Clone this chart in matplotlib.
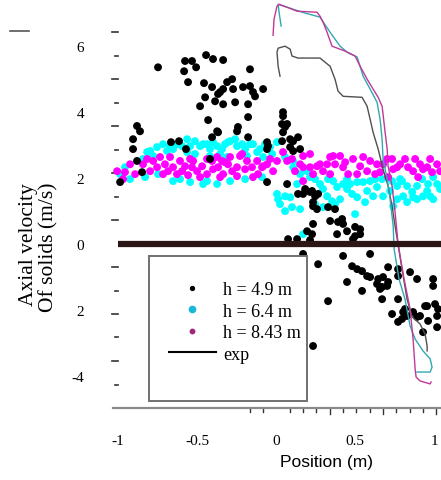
import matplotlib
matplotlib.use('Agg')
import matplotlib.pyplot as plt
from matplotlib.lines import Line2D
from matplotlib.patches import Rectangle

# ---------------- data ----------------
# h = 4.9 m (black points)
black_x = [-0.747, -0.576, -0.532, -0.506, -0.443, -0.399, -0.335, -0.165, -0.582, -0.557,
           -0.456, -0.405, -0.367, -0.449, -0.481, -0.386, -0.430, -0.310, -0.278, -0.354,
           -0.335, -0.272, -0.209, -0.165, -0.146, -0.133, -0.082, -0.335, -0.259, -0.177,
           -0.177, -0.241, -0.367, -0.405, -0.177, -0.880, -0.861, -0.905, -0.905, -0.880,
           -0.848, -0.987, -0.665, -0.614, -0.570, 0.044, 0.044, 0.038, 0.070, 0.044,
           0.089, 0.038, 0.139, -0.057, -0.051, -0.373, -0.247, -0.057, -0.418, -0.057,
           0.057, 0.108, 0.089, 0.108, 0.152, 0.070, 0.184, 0.228, 0.247, 0.171,
           0.139, 0.234, 0.215, 0.266, 0.234, 0.259, 0.329, 0.373, 0.342, 0.392,
           0.418, 0.424, 0.234, 0.196, 0.228, 0.386, 0.449, 0.500, 0.532, 0.500,
           0.532, 0.076, 0.487, 0.133, 0.215,
           0.171, 0.266, 0.424, 0.595, 0.481, 0.513, 0.544, 0.576, 0.595, 0.449,
           0.646, 0.677, 0.709, 0.703, 0.658, 0.709, 0.772, 0.848, 0.892, 0.994,
           0.772, 0.544, 0.671, 0.772, 0.956, 1.006, 1.025, 0.816, 0.829, 0.734,
           0.772, 0.892, 0.639, 0.671, 0.804, 0.867, 0.911, 0.943, 0.797, 0.962,
           1.019, 0.994, 1.019, 0.930, 0.234, 0.329]
black_y = [5.36, 5.55, 5.55, 5.36, 5.73, 5.61, 5.58, 5.30, 5.24, 4.91,
           4.88, 4.76, 4.55, 4.45, 4.18, 4.33, 3.76, 4.91, 5.00, 4.61,
           4.70, 4.70, 4.76, 4.79, 4.61, 4.48, 4.70, 4.24, 4.30, 4.24,
           3.85, 3.55, 3.39, 3.24, 3.24, 3.58, 3.42, 3.18, 2.88, 2.52,
           2.18, 1.88, 3.09, 3.12, 2.88, 4.00, 3.88, 3.64, 3.64, 3.39,
           3.18, 3.12, 3.24, 3.09, 2.97, 3.42, 3.42, 2.88, 2.58, 1.88,
           3.55, 3.12, 2.94, 2.82, 2.88, 1.82, 1.67, 1.61, 1.45, 1.52,
           1.52, 1.27, 1.58, 1.52, 1.15, 1.06, 1.12, 1.06, 0.70, 0.67,
           0.76, 0.61, 0.61, 0.39, 0.30, 0.30, 0.39, 0.52, 0.45, 0.24,
           0.30, 0.15, 0.15, 0.15, 0.12,
           -0.30, -0.61, -0.36, -0.30, -0.67, -0.76, -0.82, -0.97, -1.00, -1.15,
           -1.06, -1.00, -1.15, -1.27, -1.36, -0.70, -0.76, -0.85, -1.06, -1.06,
           -0.97, -1.42, -1.67, -1.67, -1.88, -1.82, -1.97, -1.97, -2.18, -2.12,
           -2.36, -2.21, -1.21, -1.30, -2.06, -2.06, -2.18, -1.88, -2.27, -2.33,
           -2.18, -1.27, -2.52, -2.67, -3.09, -1.73]

# h = 6.4 m (cyan points)
cyan_x = [-0.987, -0.956, -0.816, -0.797, -0.753, -0.715, -0.671, -0.627, -0.595, -0.563,
          -0.513, -0.481, -0.437, -0.418, -0.373, -0.323, -0.291, -0.247, -0.196, -0.146,
          -0.101, -0.038, 0.006, -0.513, -0.563, -0.418, -0.354, -0.310, -0.747, -0.608,
          -0.462, -0.373, -0.437, -0.652, -0.120, -0.184, 0.013, -0.462, -0.304, -0.165,
          0.057, 0.108, 0.196, 0.108, 0.329, 0.361, 0.449, 0.551, 0.595, 0.639,
          0.766, 0.829, 0.892, 0.962, 1.019, 0.386, 0.449, 0.576, 0.722, 0.861,
          0.956, 0.089, 0.057, 0.323, 0.513, 0.614, 0.867, 0.930, 0.006, 0.101,
          0.025, 0.297, 0.354, 0.373, 0.500, 0.171, 0.804, 0.892, 0.975, 1.038,
          0.994, 0.829, 0.741, 0.215, 0.278, 0.468, 0.671, 0.785,
          -0.842, -0.778, -0.690, -0.652, -0.544, -0.399, -0.342, -0.259, -0.215, -0.070,
          -0.025, -0.082, -0.924, -0.829, -0.544, -0.291, -0.196, -0.089,
          0.152, 0.247, 0.424, 0.513, 0.627, 0.734, 0.797, 0.924, 0.994, 0.481,
          0.677, 0.766, 0.405, 0.247, 0.152, 0.057, 0.563, 0.297, 0.133]
cyan_y = [2.12, 2.33, 2.79, 2.82, 2.94, 3.03, 2.97, 3.03, 2.97, 3.18,
          3.12, 2.97, 3.03, 2.88, 2.97, 3.03, 3.12, 2.97, 2.88, 3.03,
          2.88, 2.94, 3.09, 2.73, 2.79, 2.67, 2.73, 2.64, 2.12, 1.97,
          1.82, 1.82, 1.91, 1.91, 2.79, 2.67, 1.36, 3.03, 3.09, 3.03,
          2.64, 2.52, 2.21, 2.33, 1.97, 1.91, 1.97, 1.88, 1.91, 1.73,
          1.76, 1.76, 1.76, 1.82, 1.82, 1.73, 1.67, 1.61, 1.61, 1.58,
          1.61, 1.42, 1.45, 1.45, 1.42, 1.45, 1.42, 1.45, 1.52, 1.12,
          1.21, 1.12, 1.30, 1.21, 0.91, 0.30, 1.45, 1.36, 1.45, 1.67,
          1.36, 1.27, 1.15, 2.03, 1.82, 1.82, 1.97, 1.97,
          2.58, 2.67, 2.82, 2.88, 2.97, 3.09, 2.88, 3.18, 3.03, 3.03,
          2.73, 2.64, 1.97, 2.03, 1.88, 1.91, 1.97, 2.03,
          2.12, 1.97, 1.82, 1.88, 1.97, 1.91, 1.91, 1.97, 2.03, 1.52,
          1.45, 1.36, 1.36, 1.21, 1.06, 1.00, 1.27, 1.67, 1.82]

# h = 8.43 m (magenta points)
mag_x = [-1.006, -0.956, -0.968, -0.842, -0.778, -0.753, -0.734, -0.703, -0.671, -0.652,
         -0.608, -0.595, -0.544, -0.532, -0.500, -0.468, -0.437, -0.405, -0.373, -0.367,
         -0.335, -0.304, -0.278, -0.247, -0.215, -0.184, -0.152, -0.120, -0.089, -0.057,
         -0.019, 0.006, -0.797, -0.627, -0.481, -0.354, -0.247, -0.146, -0.715, 0.044,
         0.070, 0.120, 0.171, 0.215, 0.278, 0.297, 0.342, 0.373, 0.405, 0.424,
         0.456, 0.487, 0.532, 0.576, 0.595, 0.639, 0.658, 0.734, 0.766, 0.816,
         0.835, 0.867, 0.911, 0.956, 0.987, 1.019, 1.038, 0.171, 0.234, 0.513,
         -0.323, -0.228, -0.082, 0.171, 0.259, 0.361, 0.703, 0.741, 0.975,
         -0.924, -0.892, -0.816, -0.684, -0.576, -0.525, -0.437, -0.342, -0.196, -0.114,
         -0.038, -0.399, -0.557, -0.291,
         0.101, 0.152, 0.323, 0.437, 0.551, 0.677, 0.785, 0.880, 0.930, 0.627,
         0.709, 0.899, 0.342, 0.215]
mag_y = [2.21, 2.18, 1.97, 2.42, 2.52, 2.33, 2.64, 2.42, 2.64, 2.33,
         2.52, 2.21, 2.58, 2.33, 2.21, 2.36, 2.12, 2.52, 2.64, 2.33,
         2.12, 2.42, 2.21, 2.06, 2.73, 2.52, 2.33, 2.52, 2.33, 2.42,
         2.21, 2.52, 2.21, 2.12, 2.03, 2.03, 2.33, 2.03, 2.12, 2.79,
         2.52, 2.21, 1.91, 2.73, 2.42, 2.21, 2.64, 2.42, 2.67, 2.33,
         2.12, 2.58, 2.36, 2.21, 2.52, 2.42, 2.18, 2.58, 2.33, 2.58,
         2.33, 2.21, 2.42, 2.33, 2.18, 2.42, 2.21, 2.33, 2.12, 2.12,
         2.48, 2.67, 2.36, 2.67, 2.36, 2.67, 2.58, 2.27, 2.58,
         2.42, 2.12, 2.58, 2.21, 2.36, 2.52, 2.58, 2.52, 2.27, 2.12,
         2.58, 2.27, 2.09, 2.64,
         2.58, 2.42, 2.42, 2.48, 2.64, 2.42, 2.42, 2.58, 2.27, 2.12,
         2.03, 2.03, 2.12, 2.33]

# profile curves
curve_mag_x = [-0.019, -0.013, 0.006, 0.019, 0.070, 0.133, 0.259, 0.278, 0.297, 0.323,
               0.354, 0.437, 0.500, 0.532, 0.576, 0.614, 0.646, 0.671, 0.690, 0.703,
               0.709, 0.734, 0.753, 0.772, 0.810, 0.848, 0.867, 0.880, 0.886, 0.911,
               0.975, 0.981]
curve_mag_y = [6.33, 6.82, 7.21, 7.27, 7.18, 7.06, 7.03, 6.91, 6.73, 6.42,
               6.00, 5.85, 5.70, 5.39, 5.00, 4.70, 4.45, 4.18, 3.39, 2.88,
               2.36, 1.76, 0.97, 0.00, -1.06, -1.97, -2.88, -3.79, -4.03, -4.15,
               -4.24, -4.18]
curve_cyan_x = [0.032, 0.019, 0.013, 0.070, 0.165, 0.278, 0.342, 0.405, 0.449, 0.513,
                0.551, 0.595, 0.639, 0.658, 0.671, 0.677, 0.703, 0.722, 0.741, 0.747,
                0.778, 0.816, 0.848, 0.880, 0.930, 0.975, 0.987, 0.975, 0.892]
curve_cyan_y = [6.61, 7.03, 7.27, 7.18, 7.03, 6.88, 6.42, 6.00, 5.82, 5.67,
                5.09, 4.70, 4.30, 3.79, 3.18, 2.58, 1.97, 1.36, 0.55, -0.15,
                -1.06, -1.67, -2.48, -2.88, -3.24, -3.48, -3.73, -3.88, -3.88]
curve_blk_x = [0.025, 0.013, 0.006, 0.013, 0.057, 0.089, 0.101, 0.139, 0.278, 0.342,
               0.373, 0.392, 0.424, 0.544, 0.576, 0.595, 0.614, 0.646, 0.677, 0.709,
               0.734, 0.753, 0.772, 0.797, 0.829, 0.861, 0.911, 0.943, 0.956, 0.956]
curve_blk_y = [5.09, 5.39, 5.82, 5.94, 6.00, 5.91, 5.70, 5.64, 5.64, 5.39,
               5.00, 4.64, 4.48, 4.45, 4.18, 3.79, 3.39, 2.88, 2.27, 1.76,
               1.15, 0.55, 0.00, -0.76, -1.67, -2.21, -2.42, -2.73, -3.09, -3.24]

ytick_vals = [-4, -2, 0, 2, 4, 6]
ytick_labels = ['-4', '2', '0', '2', '4', '6']
xtick_vals = [-1, -0.5, 0, 0.5, 1]
xtick_labels = ['-1', '-0.5', '0', '0.5', '1']
legend_labels = ['h = 4.9 m', 'h = 6.4 m', 'h = 8.43 m', 'exp']

# decorative dash ticks
ydash_long = [6.42, 5.00, 3.58, 2.15, 0.73, -0.70, -2.12, -3.55]
ydash_short = [5.70, 4.29, 2.86, 1.44, -1.41, -2.83, -4.26]
xdash_long = [0.339, 0.677, 1.013]
xdash_short = [-0.165, -0.082, 0.089, 0.171, 0.255, 0.424, 0.508, 0.592, 0.761, 0.845, 0.929]

# ---------------- figure ----------------
W, H = 441, 481
fig = plt.figure(figsize=(W / 100, H / 100), dpi=100)
ax = fig.add_axes([113.3 / W, (H - 409) / H, 328.7 / W, 408 / H])
ax.set_xlim(-1.03, 1.05)
ax.set_ylim(-4.97, 7.4)

serif = 'Liberation Serif'

ax.scatter(cyan_x, cyan_y, s=32, c='#00ffff', edgecolors='none', zorder=2)
ax.scatter(mag_x, mag_y, s=32, c='#ff00ff', edgecolors='none', zorder=2.5)
ax.scatter(black_x, black_y, s=32, c='black', edgecolors='none', zorder=3)

ax.plot(curve_blk_x, curve_blk_y, color='#505050', lw=1.0, zorder=4)
ax.plot(curve_cyan_x, curve_cyan_y, color='#30a8b0', lw=1.0, zorder=4)
ax.plot(curve_mag_x, curve_mag_y, color='#c03898', lw=1.0, zorder=4)

ax.hlines(0, -1.0, 1.05, color='#2d1616', lw=4.5, zorder=5)

for s in ['left', 'top', 'right']:
    ax.spines[s].set_visible(False)
ax.spines['bottom'].set_color('#8a8a8a')
ax.spines['bottom'].set_linewidth(1.6)

ax.set_yticks(ytick_vals)
ax.set_yticklabels(ytick_labels, family=serif, fontsize=11)
ax.set_xticks(xtick_vals)
ax.set_xticklabels(xtick_labels, family=serif, fontsize=11)
ax.tick_params(axis='y', length=0, pad=21)
ax.tick_params(axis='x', length=0, pad=19)

ytr = ax.get_yaxis_transform()
for v in ydash_long:
    ax.plot([-0.004, 0.0143], [v, v], transform=ytr, color='#333333', lw=1.2, clip_on=False)
for v in ydash_short:
    ax.plot([0.004, 0.0143], [v, v], transform=ytr, color='#333333', lw=1.2, clip_on=False)
xtr = ax.get_xaxis_transform()
for v in xdash_long:
    ax.plot([v, v], [0, -0.0147], transform=xtr, color='#333333', lw=1.0, clip_on=False)
for v in xdash_short:
    ax.plot([v, v], [0, -0.0098], transform=xtr, color='#333333', lw=1.0, clip_on=False)

# legend frame + legend
frame = Rectangle((149 / W, (H - 402) / H), (307 - 149) / W, (402 - 257) / H,
                  transform=fig.transFigure, facecolor='white', edgecolor='#707070',
                  lw=1.4, zorder=6)
ax.add_patch(frame)
handles = [Line2D([], [], marker='o', ls='', color='black', markersize=2.8),
           Line2D([], [], marker='o', ls='', color='#18b8d8', markersize=4.5),
           Line2D([], [], marker='o', ls='', color='#a02878', markersize=3.2),
           Line2D([], [], color='black', lw=1.5)]
leg = ax.legend(handles, legend_labels, loc='upper left',
                bbox_to_anchor=(169 / W, (H - 282) / H), bbox_transform=fig.transFigure,
                frameon=False, prop={'family': serif, 'size': 13}, handlelength=2.6,
                handletextpad=0.4, labelspacing=0.25, borderpad=0, borderaxespad=0)
leg.set_zorder(7)

# axis titles
fig.text(327 / W, 1 - 462 / H, 'Position (m)', family='Liberation Sans', fontsize=12.5,
         ha='center', va='center')
fig.text(29 / W, 1 - 245 / H, 'Axial velocity', family=serif, fontsize=15.5,
         rotation=90, ha='center', va='center')
fig.text(49 / W, 1 - 247 / H, 'Of solids (m/s)', family=serif, fontsize=15.5,
         rotation=90, ha='center', va='center')

# stray mark at the top left
fig.add_artist(Line2D([10 / W, 29 / W], [1 - 32 / H, 1 - 32 / H], transform=fig.transFigure,
                      color='#555555', lw=1.2))

fig.savefig('out.png', dpi=100)
